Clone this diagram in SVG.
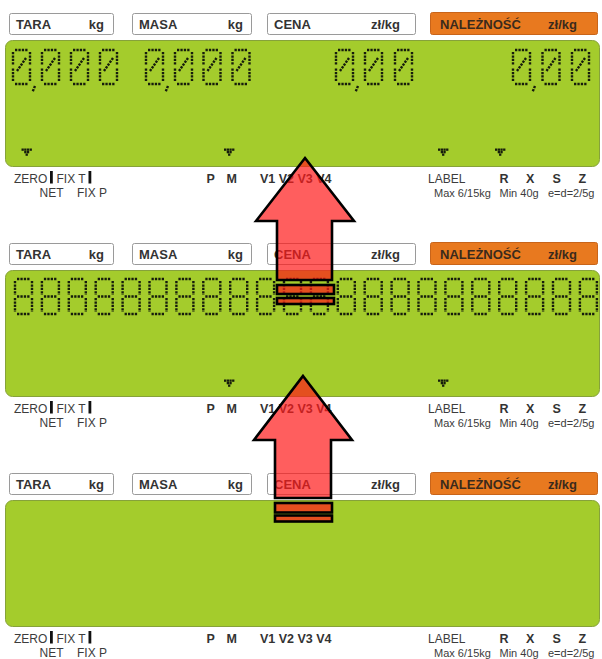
<svg xmlns="http://www.w3.org/2000/svg" xmlns:xlink="http://www.w3.org/1999/xlink" width="602" height="659" viewBox="0 0 602 659">
<style>
text{font-family:'Liberation Sans',Arial,sans-serif}
.hb{font-size:13px;font-weight:bold;fill:#333}
.ho{font-size:13px;font-weight:bold;fill:#3a2a1c}
.fr{font-size:12px;fill:#3c3c3c}
.fb{font-size:12.5px;font-weight:bold;fill:#333}
.fs{font-size:11px;fill:#3c3c3c}
.lbl{fill:#fff;stroke:#9a9a9a;stroke-width:1}
.org{fill:#e8791f;stroke:#c8641a;stroke-width:1}
.lcd{fill:#a4cc2c;stroke:#86a23a;stroke-width:1}
.seg{fill:none;stroke:#161c0c;stroke-width:2.4;stroke-dasharray:2.3 1.1}
.bar{fill:#111}
.arr{fill:#ff1a1a;fill-opacity:0.7;stroke:#000;stroke-width:2.6;stroke-linejoin:miter}
</style>
<defs>
<path id="d8" class="seg" d="M2,0H15M17,2V16M17,19V33M2,35H15M0,19V33M0,2V16M2,17.5H15"/>
<path id="d0" class="seg" d="M2,0H15M17,2V15.5M17,18.5V32M2,34H15M0,18.5V32M0,2V15.5M13,8L4,21"/>
<path id="cm" class="seg" d="M22,36L19.5,42"/>
<g id="mk" fill="#161c0c">
<rect x="0" y="0" width="2.3" height="2.3"/><rect x="2.7" y="0" width="2.3" height="2.3"/><rect x="5.4" y="0" width="2.3" height="2.3"/><rect x="8.1" y="0" width="2.3" height="2.3"/>
<rect x="2.7" y="2.5" width="2.3" height="2.3"/><rect x="5.4" y="2.5" width="2.3" height="2.3"/>
<rect x="4.05" y="5" width="2.3" height="2.3"/>
</g>
<g id="hdr">
<rect class="lbl" x="9.5" y="13.5" width="104" height="21" rx="2"/>
<text class="hb" x="16" y="29">TARA</text><text class="hb" x="104" y="29" text-anchor="end">kg</text>
<rect class="lbl" x="132.5" y="13.5" width="119" height="21" rx="2"/>
<text class="hb" x="139" y="29">MASA</text><text class="hb" x="243" y="29" text-anchor="end">kg</text>
<rect class="lbl" x="267.5" y="13.5" width="148" height="21" rx="2"/>
<text class="hb" x="274" y="29">CENA</text><text class="hb" x="400" y="29" text-anchor="end">zł/kg</text>
<rect class="org" x="430.5" y="12.5" width="167" height="22" rx="2"/>
<text class="ho" x="440" y="29">NALEŻNOŚĆ</text><text class="ho" x="577" y="29" text-anchor="end">zł/kg</text>
</g>
<g id="ftr">
<text class="fr" x="14" y="183">ZERO</text>
<rect class="bar" x="50" y="171" width="2.8" height="12.5"/>
<text class="fr" x="56.5" y="183">FIX T</text>
<rect class="bar" x="88.5" y="171" width="2.8" height="12.5"/>
<text class="fr" x="39.5" y="196.5">NET</text>
<text class="fr" x="77" y="196.5">FIX P</text>
<text class="fb" x="206.5" y="183">P</text>
<text class="fb" x="226.5" y="183">M</text>
<text class="fb" x="260" y="183">V1 V2 V3 V4</text>
<text class="fr" x="428" y="183">LABEL</text>
<text class="fb" x="499.5" y="183">R</text>
<text class="fb" x="526" y="183">X</text>
<text class="fb" x="552.5" y="183">S</text>
<text class="fb" x="578.5" y="183">Z</text>
<text class="fs" y="196.5"><tspan x="434">Max 6/15kg</tspan><tspan x="499.5">Min 40g</tspan><tspan x="548">e=d=2/5g</tspan></text>
</g>
</defs>
<rect width="602" height="659" fill="#fff"/>

<g id="panel1">
<use xlink:href="#hdr"/>
<rect class="lcd" x="5.5" y="40.5" width="594" height="126" rx="7"/>
<g id="p1-digits">
<use xlink:href="#d0" x="13" y="50"/><use xlink:href="#cm" x="13" y="50"/>
<use xlink:href="#d0" x="42" y="50"/><use xlink:href="#d0" x="71" y="50"/><use xlink:href="#d0" x="100" y="50"/>
<use xlink:href="#d0" x="146" y="50"/><use xlink:href="#cm" x="146" y="50"/>
<use xlink:href="#d0" x="175" y="50"/><use xlink:href="#d0" x="203.5" y="50"/><use xlink:href="#d0" x="232.5" y="50"/>
<use xlink:href="#d0" x="336" y="50"/><use xlink:href="#cm" x="336" y="50"/>
<use xlink:href="#d0" x="365" y="50"/><use xlink:href="#d0" x="395" y="50"/>
<use xlink:href="#d0" x="513" y="50"/><use xlink:href="#cm" x="513" y="50"/>
<use xlink:href="#d0" x="542.5" y="50"/><use xlink:href="#d0" x="572" y="50"/>
</g>
<use xlink:href="#mk" x="21.5" y="148.5"/>
<use xlink:href="#mk" x="224" y="148.5"/>
<use xlink:href="#mk" x="438" y="148.5"/>
<use xlink:href="#mk" x="495" y="148.5"/>
<use xlink:href="#ftr"/>
</g>

<g id="panel2">
<use xlink:href="#hdr" y="230"/>
<rect class="lcd" x="5.5" y="270.5" width="594" height="126" rx="7"/>
<g id="p2-digits">
<use xlink:href="#d8" x="15" y="279"/><use xlink:href="#d8" x="41.9" y="279"/><use xlink:href="#d8" x="68.8" y="279"/><use xlink:href="#d8" x="95.7" y="279"/>
<use xlink:href="#d8" x="122.6" y="279"/><use xlink:href="#d8" x="149.5" y="279"/><use xlink:href="#d8" x="176.4" y="279"/><use xlink:href="#d8" x="203.3" y="279"/>
<use xlink:href="#d8" x="230.2" y="279"/><use xlink:href="#d8" x="257.1" y="279"/><use xlink:href="#d8" x="284" y="279"/><use xlink:href="#d8" x="310.9" y="279"/>
<use xlink:href="#d8" x="337.8" y="279"/><use xlink:href="#d8" x="364.7" y="279"/><use xlink:href="#d8" x="391.6" y="279"/><use xlink:href="#d8" x="418.5" y="279"/>
<use xlink:href="#d8" x="445.4" y="279"/><use xlink:href="#d8" x="472.3" y="279"/><use xlink:href="#d8" x="499.2" y="279"/><use xlink:href="#d8" x="526.1" y="279"/>
<use xlink:href="#d8" x="553" y="279"/><use xlink:href="#d8" x="579.9" y="279"/>
</g>
<use xlink:href="#mk" x="224" y="379.5"/>
<use xlink:href="#mk" x="438" y="379.5"/>
<use xlink:href="#ftr" y="230"/>
</g>

<g id="panel3">
<use xlink:href="#hdr" y="460"/>
<rect class="lcd" x="5.5" y="500.5" width="594" height="126" rx="7"/>
<use xlink:href="#ftr" y="460"/>
</g>

<g id="connectors">
<g id="arrow1">
<path class="arr" d="M305,158 L354,221 L332,221 L332,280 L277,280 L277,221 L256,221 Z"/>
<rect class="arr" x="277" y="285" width="57" height="9"/>
<rect class="arr" x="277" y="298" width="57" height="6"/>
</g>
<g id="arrow2">
<path class="arr" d="M303,376 L352,440 L331,440 L331,498 L275,498 L275,440 L254,440 Z"/>
<rect class="arr" x="275" y="503" width="57" height="9.5"/>
<rect class="arr" x="275" y="515.5" width="57" height="6"/>
</g>
</g>
</svg>
